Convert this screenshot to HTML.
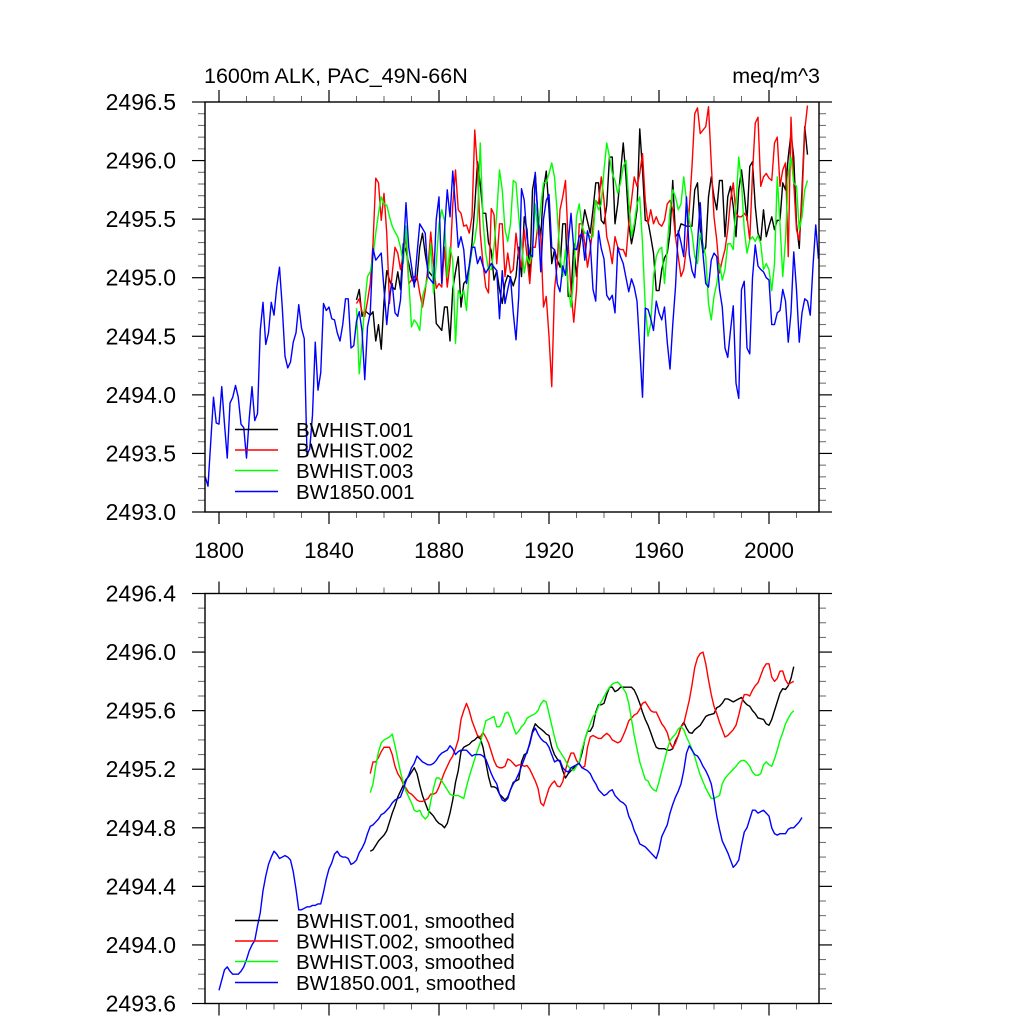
<!DOCTYPE html>
<html><head><meta charset="utf-8"><title>1600m ALK, PAC_49N-66N</title>
<style>
html,body{margin:0;padding:0;background:#fff;}
svg{display:block;font-family:"Liberation Sans",Arial,sans-serif;}
</style></head>
<body>
<svg id="chart" width="1024" height="1024" viewBox="0 0 1024 1024" xmlns="http://www.w3.org/2000/svg">
<defs>
<clipPath id="clipTop"><rect x="205" y="102" width="614" height="410"/></clipPath>
<clipPath id="clipBot"><rect x="205" y="593.5" width="614" height="410"/></clipPath>
</defs>
<text x="204" y="83" font-size="21.5" fill="#000">1600m ALK, PAC_49N-66N</text>
<text x="820" y="83" font-size="21.5" fill="#000" text-anchor="end">meq/m^3</text>
<g id="topPanel"></g>
<g id="botPanel"></g>
</svg>
<script>
// ---------- data (years are start year + index) ----------
const xTickLabels = [1800, 1840, 1880, 1920, 1960, 2000];
const topYTicks = [2493.0, 2493.5, 2494.0, 2494.5, 2495.0, 2495.5, 2496.0, 2496.5];
const botYTicks = [2493.6, 2494.0, 2494.4, 2494.8, 2495.2, 2495.6, 2496.0, 2496.4];
const topLegendLabels = ["BWHIST.001", "BWHIST.002", "BWHIST.003", "BW1850.001"];
const botLegendLabels = ["BWHIST.001, smoothed", "BWHIST.002, smoothed", "BWHIST.003, smoothed", "BW1850.001, smoothed"];

const histStart = 1850;
const blueStart = 1795;
const histSmoothStart = 1855;
const blueSmoothStart = 1800;

const black001 = [2494.81,2494.90,2494.67,2494.72,2494.70,2494.68,2494.71,2494.46,2494.60,2494.39,
2494.80,2495.06,2494.98,2494.92,2494.90,2495.05,2494.90,2495.29,2495.23,2495.12,2495.00,
2494.95,2495.00,2495.26,2495.38,2495.20,2495.06,2495.03,2495.00,2494.61,2494.58,2494.55,
2494.75,2494.75,2494.46,2494.90,2495.05,2495.18,2494.75,2494.95,2494.98,2495.10,2495.30,
2495.61,2495.99,2495.80,2495.55,2495.55,2495.30,2495.23,2494.98,2495.06,2494.90,
2494.78,2494.95,2495.02,2495.00,2494.93,2495.01,2495.26,2495.01,
2495.52,2495.41,2495.01,2495.75,2495.89,2495.52,2495.35,
2495.75,2495.91,2495.58,2495.12,2495.24,2495.15,2495.09,2495.46,2495.46,2494.84,
2494.84,2495.29,2495.01,2495.24,2495.41,2495.58,2495.48,2495.38,2495.58,2495.81,
2495.81,2495.49,2495.46,2495.62,2496.03,2496.03,2495.46,2495.63,2495.89,2496.15,
2495.86,2495.46,2495.29,2495.41,2495.58,2496.27,2495.92,2495.49,2495.48,2495.35,
2495.21,2494.89,2494.89,2495.07,2495.17,2495.21,2495.38,2495.83,2495.35,2495.38,
2495.46,2495.45,2495.44,2495.44,2495.44,2495.75,2495.81,2495.41,2495.21,2495.26,
2495.69,2495.86,2495.69,2495.58,2495.83,2495.83,2495.35,2495.69,2495.78,2495.61,
2495.35,2495.75,2495.92,2495.72,2495.49,2495.95,2495.99,2495.61,2495.38,2495.32,
2495.58,2495.35,2495.44,2495.52,2495.41,2495.49,2495.49,2495.81,2495.75,2496.03,
2496.23,2496.03,2495.46,2495.25,2495.75,2496.29,2496.05];

const red002 = [2494.78,2494.82,2494.71,2494.67,2494.80,2494.95,2495.29,2495.85,2495.81,2495.49,
2495.72,2495.38,2494.78,2495.04,2495.26,2495.21,2495.07,2495.20,2495.35,2494.95,2494.98,
2495.01,2495.01,2494.87,2494.75,2494.89,2495.09,2495.39,2495.12,2494.91,2494.95,2494.92,
2495.26,2494.92,2495.12,2495.62,2495.92,2495.58,2495.55,2495.44,2495.45,2495.38,2495.52,
2496.26,2495.92,2495.38,2495.12,2494.92,2494.87,2495.59,2495.54,2495.12,2495.46,
2495.46,2495.01,2495.21,2495.04,2495.07,2495.38,2495.18,2495.09,
2495.41,2495.18,2494.95,2495.26,2495.26,2495.46,2495.35,
2494.75,2494.84,2494.50,2494.07,2494.90,2495.12,2495.58,2495.69,2495.83,2495.29,
2494.89,2494.62,2494.89,2495.46,2495.46,2495.29,2495.09,2495.24,2495.44,2495.66,
2495.63,2495.86,2495.66,2495.35,2495.26,2495.12,2495.35,2495.26,2495.24,2495.24,
2495.18,2495.46,2495.66,2495.86,2495.78,2495.89,2496.06,2495.66,2495.46,2495.58,
2495.46,2495.52,2495.46,2495.44,2495.49,2495.63,2495.66,2495.58,2495.35,2495.18,
2495.01,2495.07,2495.26,2495.58,2495.95,2496.40,2496.45,2496.23,2496.26,2496.29,
2496.46,2495.98,2495.52,2495.32,2495.04,2495.15,2495.24,2495.41,2495.66,2495.81,
2495.55,2495.52,2495.52,2495.55,2495.52,2495.32,2495.89,2496.32,2496.37,2495.78,
2495.86,2495.89,2495.85,2495.83,2496.15,2496.20,2495.78,2495.92,2495.98,2495.18,
2496.37,2495.81,2495.41,2495.32,2495.66,2496.26,2496.47];

const green003 = [2494.74,2494.18,2494.44,2494.78,2495.01,2495.05,2495.18,2495.38,2495.55,2495.69,
2495.63,2495.62,2495.52,2495.44,2495.39,2495.35,2495.26,2495.12,2495.44,2494.98,
2494.58,2494.64,2494.61,2494.55,2494.84,2494.92,2495.01,2495.29,2494.87,2495.12,
2495.46,2495.58,2495.49,2495.01,2495.26,2495.15,2494.44,2494.89,2494.84,2494.89,
2494.72,2495.07,2495.24,2495.32,2495.49,2496.15,2495.49,2495.21,2495.07,2495.07,
2495.26,2495.55,2495.92,2495.75,2495.41,2495.31,2495.46,2495.83,
2495.81,2495.52,2495.29,2495.04,2495.18,2495.12,2495.24,2495.63,2495.38,2495.61,
2495.81,2495.81,2495.89,2495.98,2495.86,2495.55,2495.18,2495.01,2495.24,2494.92,
2494.75,2495.01,2495.52,2495.63,2495.44,2495.38,2495.38,2495.35,2495.35,2495.66,
2495.58,2495.63,2495.92,2496.15,2496.03,2495.89,2495.83,2495.72,2495.81,2495.95,
2496.00,2495.66,2495.35,2495.46,2495.63,2495.69,2495.29,2494.75,2494.50,2494.61,
2495.01,2495.18,2495.24,2495.26,2494.95,2495.26,2495.58,2495.75,2495.69,2495.58,
2495.63,2495.86,2495.66,2495.49,2495.38,2495.18,2495.12,2495.38,2495.29,2495.18,
2494.78,2494.64,2494.84,2494.95,2495.12,2494.98,2495.07,2495.29,2495.29,2495.24,
2495.63,2496.03,2495.81,2495.41,2495.21,2495.32,2495.35,2495.31,2495.36,2495.29,
2495.07,2495.12,2495.07,2494.89,2495.12,2495.86,2495.46,2495.01,2495.32,2495.89,
2496.03,2495.81,2495.78,2495.41,2495.52,2495.75,2495.83];

const blue1850 = [2493.30,2493.22,2493.60,2493.98,2493.76,2493.75,2494.07,2493.75,2493.46,2493.93,
2493.98,2494.08,2493.98,2493.75,2493.72,2493.46,2493.80,2494.07,2493.78,2493.84,
2494.55,2494.79,2494.43,2494.53,2494.79,2494.68,2494.92,2495.09,2494.75,2494.33,
2494.23,2494.28,2494.45,2494.53,2494.77,2494.57,2494.48,2493.49,2493.54,2493.83,
2494.45,2494.04,2494.19,2494.78,2494.72,2494.75,2494.65,2494.64,2494.53,2494.46,
2494.60,2494.82,2494.82,2494.40,2494.42,2494.63,2494.71,2494.55,2494.13,2494.58,
2494.70,2495.25,2495.15,2495.18,2495.21,2494.90,2494.60,2494.85,2494.95,2494.70,
2494.67,2494.81,2495.20,2495.64,2495.26,2495.10,2494.92,2495.20,2495.46,2495.42,
2495.38,2495.01,2494.98,2494.95,2495.50,2495.69,2494.95,2495.40,2495.75,2495.52,
2495.91,2495.60,2495.26,2495.35,2495.24,2494.95,2495.10,2495.26,2495.26,2495.12,
2495.18,2495.10,2495.04,2495.08,2495.12,2495.09,2495.06,2494.65,2495.06,2494.78,
2494.90,2495.01,2494.70,2494.47,2494.84,2495.76,2495.66,
2495.34,2495.20,2495.18,2495.90,2495.50,2495.05,2495.50,2495.66,2495.71,2495.26,
2495.24,2494.95,2494.88,2495.10,2495.02,2495.30,2495.55,2495.25,2495.24,2495.35,
2495.38,2495.15,2495.40,2495.30,2494.90,2494.80,2495.40,2495.25,2495.16,2494.85,
2494.81,2494.85,2494.70,2495.26,2495.18,2495.12,2495.00,2494.88,2494.99,2494.92,
2494.80,2494.40,2493.98,2494.74,2494.73,2494.65,2494.55,2494.80,2494.70,2494.64,
2494.75,2494.45,2494.22,2494.60,2494.92,2495.40,2495.30,2495.18,2495.69,2495.20,
2495.06,2495.00,2495.30,2495.64,2495.20,2494.95,2494.92,2495.15,2495.21,2495.18,
2494.90,2494.75,2494.40,2494.32,2494.55,2494.76,2494.10,2493.97,2494.90,2494.97,
2494.40,2494.35,2495.00,2495.28,2495.10,2495.07,2495.05,2495.00,2494.98,2494.60,
2494.60,2494.70,2494.72,2494.90,2494.80,2494.45,2494.70,2495.22,2494.90,2494.45,
2494.70,2494.82,2494.80,2494.68,2495.10,2495.45,2495.16];

const black001Smooth = [2494.64,2494.65,2494.68,2494.71,2494.73,2494.75,2494.78,2494.84,2494.90,2494.95,
2495.01,2495.05,2495.09,2495.13,2495.15,2495.18,2495.21,2495.17,2495.09,2495.02,
2494.97,2494.92,2494.90,2494.88,2494.85,2494.83,2494.82,2494.80,2494.83,2494.90,
2494.99,2495.11,2495.19,2495.32,2495.35,2495.36,2495.37,2495.39,2495.40,2495.42,
2495.41,2495.35,2495.25,2495.15,2495.08,2495.08,2495.07,2495.03,2495.01,2494.99,
2495.01,2495.06,2495.11,2495.12,2495.13,2495.25,2495.30,
2495.31,2495.38,2495.46,2495.51,2495.49,2495.475,2495.46,2495.44,2495.43,2495.35,
2495.30,2495.27,2495.25,2495.19,2495.14,2495.17,2495.19,2495.21,2495.23,2495.245,
2495.31,2495.40,2495.46,2495.46,2495.495,2495.59,2495.64,2495.64,2495.65,2495.71,
2495.76,2495.76,2495.73,2495.74,2495.76,2495.76,2495.76,2495.76,2495.76,2495.74,
2495.70,2495.65,2495.59,2495.54,2495.50,2495.45,2495.395,2495.35,2495.34,2495.34,
2495.34,2495.33,2495.33,2495.34,2495.395,2495.43,2495.49,2495.52,2495.48,2495.45,
2495.445,2495.47,2495.485,2495.50,2495.53,2495.56,2495.57,2495.575,2495.58,2495.62,
2495.63,2495.65,2495.68,2495.68,2495.67,2495.66,2495.67,2495.68,2495.69,2495.66,
2495.64,2495.63,2495.60,2495.58,2495.55,2495.545,2495.54,2495.51,2495.50,2495.54,
2495.60,2495.66,2495.72,2495.75,2495.745,2495.77,2495.82,2495.90];

const red002Smooth = [2495.17,2495.25,2495.25,2495.28,2495.32,2495.35,2495.35,2495.35,2495.30,2495.22,
2495.17,2495.14,2495.10,2495.07,2495.04,2495.03,2495.01,2494.99,2494.98,2494.98,
2494.99,2495.00,2495.03,2495.03,2495.04,2495.08,2495.13,2495.18,2495.22,2495.26,
2495.29,2495.34,2495.40,2495.54,2495.60,2495.65,2495.60,2495.53,2495.48,2495.43,
2495.42,2495.45,2495.42,2495.38,2495.32,2495.26,2495.22,2495.21,2495.21,2495.22,
2495.27,2495.26,2495.24,2495.22,2495.23,2495.23,2495.22,
2495.225,2495.20,2495.16,2495.12,2495.07,2494.97,2494.95,2495.01,2495.07,2495.10,
2495.12,2495.085,2495.08,2495.115,2495.195,2495.26,2495.31,2495.31,2495.26,2495.235,
2495.21,2495.22,2495.35,2495.42,2495.43,2495.42,2495.41,2495.41,2495.43,2495.445,
2495.43,2495.40,2495.39,2495.38,2495.39,2495.43,2495.475,2495.53,2495.55,2495.57,
2495.58,2495.61,2495.65,2495.66,2495.63,2495.60,2495.59,2495.59,2495.55,2495.51,
2495.485,2495.45,2495.38,2495.345,2495.38,2495.43,2495.49,2495.51,2495.59,2495.67,
2495.775,2495.895,2495.96,2495.99,2496.00,2495.92,2495.81,2495.71,2495.63,2495.58,
2495.52,2495.47,2495.42,2495.43,2495.45,2495.47,2495.50,2495.57,2495.65,2495.71,
2495.71,2495.70,2495.74,2495.77,2495.79,2495.84,2495.89,2495.92,2495.92,2495.83,
2495.80,2495.82,2495.87,2495.87,2495.81,2495.78,2495.79,2495.80];

const green003Smooth = [2495.04,2495.10,2495.22,2495.32,2495.38,2495.40,2495.41,2495.42,2495.44,2495.36,
2495.27,2495.18,2495.11,2495.05,2495.01,2494.97,2494.92,2494.91,2494.92,2494.88,
2494.86,2494.88,2494.98,2495.07,2495.14,2495.14,2495.12,2495.09,2495.06,2495.03,
2495.02,2495.02,2495.02,2495.01,2495.00,2495.08,2495.15,2495.21,2495.27,2495.33,
2495.38,2495.45,2495.53,2495.54,2495.55,2495.56,2495.49,2495.49,2495.52,2495.58,
2495.59,2495.55,2495.49,2495.44,2495.46,2495.49,2495.51,
2495.548,2495.56,2495.57,2495.58,2495.60,2495.645,2495.67,2495.66,2495.58,2495.50,
2495.42,2495.35,2495.32,2495.29,2495.26,2495.22,2495.20,2495.19,2495.22,2495.25,
2495.336,2495.40,2495.46,2495.51,2495.56,2495.58,2495.63,2495.66,2495.695,2495.73,
2495.76,2495.78,2495.79,2495.795,2495.775,2495.75,2495.72,2495.65,2495.54,2495.43,
2495.34,2495.25,2495.19,2495.13,2495.12,2495.08,2495.06,2495.05,2495.115,2495.19,
2495.26,2495.336,2495.395,2495.42,2495.44,2495.475,2495.49,2495.47,2495.42,2495.38,
2495.336,2495.285,2495.22,2495.16,2495.115,2495.07,2495.035,2495.00,2495.00,2495.01,
2495.02,2495.10,2495.137,2495.16,2495.18,2495.20,2495.22,2495.245,2495.26,2495.26,
2495.245,2495.22,2495.18,2495.16,2495.158,2495.17,2495.23,2495.25,2495.23,2495.22,
2495.27,2495.33,2495.40,2495.45,2495.51,2495.547,2495.58,2495.60];

const blue1850Smooth = [2493.69,2493.76,2493.83,2493.85,2493.82,2493.80,2493.80,2493.80,2493.82,2493.85,
2493.90,2493.96,2494.00,2494.03,2494.13,2494.22,2494.37,2494.47,2494.55,2494.60,
2494.64,2494.62,2494.59,2494.60,2494.61,2494.60,2494.58,2494.50,2494.38,2494.24,
2494.24,2494.25,2494.26,2494.26,2494.27,2494.27,2494.28,2494.28,2494.36,2494.45,
2494.52,2494.56,2494.62,2494.64,2494.61,2494.60,2494.60,2494.59,2494.55,2494.56,
2494.58,2494.63,2494.66,2494.70,2494.76,2494.81,2494.82,2494.84,2494.86,2494.89,
2494.90,2494.92,2494.94,2494.97,2494.99,2495.00,2495.01,2495.06,2495.12,2495.16,
2495.21,2495.24,2495.29,2495.27,2495.25,2495.24,2495.23,2495.23,2495.24,2495.26,
2495.29,2495.31,2495.32,2495.33,2495.36,2495.34,2495.30,2495.32,2495.33,2495.33,
2495.33,2495.31,2495.29,2495.30,2495.30,2495.30,2495.29,2495.27,2495.22,2495.17,
2495.13,2495.10,2495.03,2494.99,2494.98,2495.00,2495.06,2495.10,2495.13,2495.17,
2495.22,2495.27,
2495.32,2495.37,2495.45,2495.48,2495.44,2495.41,2495.39,2495.38,2495.35,2495.30,
2495.25,2495.26,2495.26,2495.21,2495.19,2495.18,2495.21,2495.22,2495.23,2495.24,
2495.21,2495.20,2495.19,2495.17,2495.13,2495.10,2495.06,2495.04,2495.02,2495.03,
2495.05,2495.06,2495.02,2495.00,2494.98,2494.97,2494.95,2494.88,2494.84,2494.78,
2494.74,2494.69,2494.68,2494.67,2494.65,2494.63,2494.61,2494.59,2494.65,2494.74,
2494.78,2494.82,2494.90,2494.96,2495.01,2495.05,2495.10,2495.19,2495.31,2495.36,
2495.33,2495.30,2495.29,2495.26,2495.22,2495.19,2495.15,2495.10,2495.00,2494.88,
2494.79,2494.71,2494.67,2494.63,2494.58,2494.53,2494.55,2494.58,2494.68,2494.77,
2494.80,2494.86,2494.92,2494.92,2494.90,2494.91,2494.92,2494.90,2494.88,2494.80,
2494.76,2494.75,2494.76,2494.76,2494.76,2494.79,2494.80,2494.80,2494.82,2494.84,
2494.87];

// ---------- scales ----------
const FX0 = 205, FX1 = 819, FW = 614, FH = 410;
const TOP_Y0 = 102, BOT_Y0 = 593.5;
function xScale(yr){ return 219 + (yr - 1800) * 2.75; }
function yTop(v){ return TOP_Y0 + (2496.5 - v) * FH / 3.5; }
function yBot(v){ return BOT_Y0 + (2496.4 - v) * FH / 2.8; }

const NS = "http://www.w3.org/2000/svg";
function mk(tag, attrs, parent){
  const e = document.createElementNS(NS, tag);
  for (const k in attrs) e.setAttribute(k, attrs[k]);
  parent.appendChild(e);
  return e;
}

function drawFrame(g, y0, yFn, yTicks, minorStep, minorCount, withXLabels, prefix){
  const y1 = y0 + FH;
  yTicks.forEach(function(v, i){
    const yy = yFn(v);
    const tl = mk("line", {x1: FX0 - 13, x2: FX0, y1: yy, y2: yy, stroke: "#000", "stroke-width": 1.2}, g);
    
    
    const tr = mk("line", {x1: FX1, x2: FX1 + 13, y1: yy, y2: yy, stroke: "#000", "stroke-width": 1.2}, g);
    
    
    const lb = mk("text", {x: 176, y: yy + 8, "font-size": 23, "text-anchor": "end", fill: "#000"}, g);
    lb.textContent = v.toFixed(1);
    
    
    if (i < yTicks.length - 1){
      for (let m = 1; m <= minorCount; m++){
        const ym = yFn(v + m * minorStep);
        const ml = mk("line", {x1: FX0 - 7, x2: FX0, y1: ym, y2: ym, stroke: "#666", "stroke-width": 1}, g);
        
        
        const mr = mk("line", {x1: FX1, x2: FX1 + 7, y1: ym, y2: ym, stroke: "#666", "stroke-width": 1}, g);
        
        
      }
    }
  });
  for (let yr = 1800; yr <= 2010; yr += 10){
    const xx = xScale(yr);
    const major = (yr - 1800) % 40 === 0;
    const len = major ? 12 : 6;
    const col = major ? "#000" : "#666";
    const t1 = mk("line", {x1: xx, x2: xx, y1: y0 - len, y2: y0, stroke: col, "stroke-width": major ? 1.2 : 1}, g);
    
    
    const t2 = mk("line", {x1: xx, x2: xx, y1: y1, y2: y1 + len, stroke: col, "stroke-width": major ? 1.2 : 1}, g);
    
    
  }
  if (withXLabels){
    xTickLabels.forEach(function(yr){
      const t = mk("text", {x: xScale(yr), y: 558, "font-size": 22.4, "text-anchor": "middle", fill: "#000"}, g);
      t.textContent = String(yr);
      
      
    });
  }
  const fr = mk("rect", {x: FX0, y: y0, width: FW, height: FH, fill: "none", stroke: "#000", "stroke-width": 1.4}, g);
  
  
}

function drawSeries(g, values, startYear, yFn, color, clipId, name){
  const pts = values.map(function(v, i){ return xScale(startYear + i).toFixed(2) + "," + yFn(v).toFixed(2); }).join(" ");
  const p = mk("polyline", {points: pts, fill: "none", stroke: color, "stroke-width": 1.4, "stroke-linejoin": "round", "clip-path": "url(#" + clipId + ")"}, g);
  
  
}

function drawLegend(g, labels, colors, ys, prefix){
  labels.forEach(function(lab, i){
    const l = mk("line", {x1: 235, x2: 278, y1: ys[i], y2: ys[i], stroke: colors[i], "stroke-width": 1.4}, g);
    
    
    const t = mk("text", {x: 296, y: ys[i] + 7.5, "font-size": 20.5, fill: "#000"}, g);
    t.textContent = lab;
    
    
  });
}

const colors = ["#000000", "#ff0000", "#00ff00", "#0000ff"];
const gTop = document.getElementById("topPanel");
const gBot = document.getElementById("botPanel");

drawSeries(gTop, black001, histStart, yTop, colors[0], "clipTop", "bwhist-001-line");
drawSeries(gTop, red002, histStart, yTop, colors[1], "clipTop", "bwhist-002-line");
drawSeries(gTop, green003, histStart, yTop, colors[2], "clipTop", "bwhist-003-line");
drawSeries(gTop, blue1850, blueStart, yTop, colors[3], "clipTop", "bw1850-001-line");
drawFrame(gTop, TOP_Y0, yTop, topYTicks, 0.1, 4, true, "top");
drawLegend(gTop, topLegendLabels, colors, [429.5, 450, 470.5, 491.5], "top");

drawSeries(gBot, black001Smooth, histSmoothStart, yBot, colors[0], "clipBot", "bwhist-001-smoothed-line");
drawSeries(gBot, red002Smooth, histSmoothStart, yBot, colors[1], "clipBot", "bwhist-002-smoothed-line");
drawSeries(gBot, green003Smooth, histSmoothStart, yBot, colors[2], "clipBot", "bwhist-003-smoothed-line");
drawSeries(gBot, blue1850Smooth, blueSmoothStart, yBot, colors[3], "clipBot", "bw1850-001-smoothed-line");
drawFrame(gBot, BOT_Y0, yBot, botYTicks, 0.1, 3, false, "bottom");
drawLegend(gBot, botLegendLabels, colors, [920.5, 941, 961.5, 982.5], "bottom");
</script>
</body></html>
